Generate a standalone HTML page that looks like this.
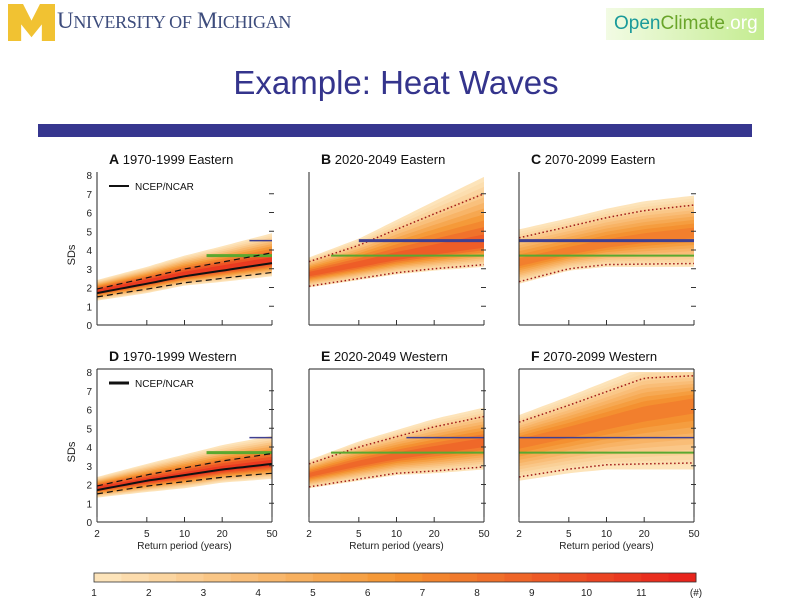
<!DOCTYPE html>
<html><head><meta charset="utf-8"><style>
body{margin:0;width:792px;height:612px;background:#fff;overflow:hidden;font-family:"Liberation Sans",sans-serif;position:relative}
</style></head><body>
<div style="position:absolute;left:8px;top:4px;width:47px;height:37px;background:#f1c232;clip-path:polygon(0 0,32% 0,50% 45%,68% 0,100% 0,100% 100%,72% 100%,72% 55%,50% 90%,28% 55%,28% 100%,0 100%)"></div>
<div style="position:absolute;left:57px;top:8px;font-family:'Liberation Serif',serif;font-size:23px;color:#3d4c7c;letter-spacing:-0.3px">U<span style="font-size:18px">NIVERSITY OF</span> M<span style="font-size:18px">ICHIGAN</span></div>
<div style="position:absolute;left:606px;top:8px;width:158px;height:32px;background:linear-gradient(90deg,#f2fbe4,#c4ec90);font-size:19px;line-height:32px;padding-left:8px;box-sizing:border-box"><span style="color:#1a9a9a">Open</span><span style="color:#6aa52a">Climate</span><span style="color:#fff">.org</span></div>
<div style="position:absolute;left:0;width:792px;top:64px;text-align:center;font-size:33px;color:#34348c">Example: Heat Waves</div>
<div style="position:absolute;left:38px;top:124px;width:714px;height:13px;background:#36368f"></div>
<svg id="chart" width="792" height="612" style="position:absolute;left:0;top:0" xmlns="http://www.w3.org/2000/svg"></svg>
<script>
const periods=[2,5,10,20,50];
const xTicks=[2,5,10,20,50];
const yTicks=[0,1,2,3,4,5,6,7,8];
const titles=["1970-1999 Eastern","2020-2049 Eastern","2070-2099 Eastern","1970-1999 Western","2020-2049 Western","2070-2099 Western"];
const letters=["A","B","C","D","E","F"];
const centerA=[1.8,2.3,2.7,3.0,3.4], upA=[0.6,0.8,1.0,1.2,1.5], downA=[0.5,0.6,0.6,0.7,0.8];
const centerB=[2.7,3.2,3.6,3.9,4.3], upB=[0.9,1.4,2.0,2.7,3.6], downB=[0.7,0.8,0.9,1.0,1.2];
const centerC=[3.3,3.9,4.3,4.6,4.9], upC=[1.8,1.8,1.9,2.0,2.0], downC=[1.1,1.0,1.2,1.5,1.8];
const centerD=[1.8,2.2,2.5,2.8,3.1], upD=[0.6,0.9,1.1,1.3,1.5], downD=[0.5,0.6,0.7,0.7,0.8];
const centerE=[2.5,3.1,3.5,3.8,4.2], upE=[0.8,1.2,1.4,1.7,1.9], downE=[0.7,0.9,1.0,1.2,1.4];
const centerF=[4.2,4.8,5.3,5.8,6.3], upF=[1.5,1.9,2.2,2.5,2.0], downF=[2.0,2.2,2.5,3.0,3.5];
const ncepA=[1.7,2.2,2.6,2.9,3.3], ncepD=[1.7,2.2,2.5,2.8,3.1];
const blueObs=[4.5,4.5,4.5,4.5,4.5,4.5], blueStart=[33,5,2,33,12,2];
const greenObs=[3.7,3.7,3.7,3.7,3.7,3.7], greenStart=[15,3,2,15,3,2];
const cbLabels=["1","2","3","4","5","6","7","8","9","10","11","(#)"];
const centers=[centerA,centerB,centerC,centerD,centerE,centerF];
const ups=[upA,upB,upC,upD,upE,upF];
const downs=[downA,downB,downC,downD,downE,downF];
const svg=document.getElementById('chart');
const NS="http://www.w3.org/2000/svg";
function mk(t,a,p){const e=document.createElementNS(NS,t);for(const k in a)e.setAttribute(k,a[k]);(p||svg).appendChild(e);return e;}
const lefts=[97,309,519], tops=[175,372], PW=175, PH=150;
function interp(arr,p){const lp=Math.log(p);for(let i=0;i<periods.length-1;i++){const a=Math.log(periods[i]),b=Math.log(periods[i+1]);if(lp<=b+1e-9){const t=(lp-a)/(b-a);return arr[i]+t*(arr[i+1]-arr[i]);}}return arr[arr.length-1];}
function col(t){const c0=[253,228,186],c1=[232,36,28],c2=[245,150,50];let r,g,b;if(t<0.5){const u=t/0.5;r=c0[0]+(c2[0]-c0[0])*u;g=c0[1]+(c2[1]-c0[1])*u;b=c0[2]+(c2[2]-c0[2])*u;}else{const u=(t-0.5)/0.5;r=c2[0]+(c1[0]-c2[0])*u;g=c2[1]+(c1[1]-c2[1])*u;b=c2[2]+(c1[2]-c2[2])*u;}return `rgb(${r|0},${g|0},${b|0})`;}
const redness=[0.9,0.75,0.6,0.9,0.7,0.6];
for(let p=0;p<6;p++){
 const L=lefts[p%3],T=tops[Math.floor(p/3)];
 const xs=v=>L+PW*Math.log(v/2)/Math.log(25);
 const ys=v=>T+PH-v*PH/8;
 const g=mk('g',{});
 
 
 const samples=[];for(let i=0;i<=30;i++)samples.push(2*Math.pow(25,i/30));
 for(let k=0;k<11;k++){const f=Math.pow((11-k)/11,0.8);let up=[],dn=[];
  samples.forEach(s=>{const c=interp(centers[p],s);up.push(xs(s).toFixed(1)+','+ys(Math.min(8,c+interp(ups[p],s)*f)).toFixed(1));dn.unshift(xs(s).toFixed(1)+','+ys(Math.max(0,c-interp(downs[p],s)*f)).toFixed(1));});
  const poly=mk('polygon',{points:up.concat(dn).join(' '),fill:col(Math.pow(k/10,1.3)*redness[p])},g);
  
  }
 if(p!==0&&p!==3){[[ups[p],0.75],[downs[p],-0.9]].forEach(([arr,m])=>{const pts=samples.map(s=>xs(s).toFixed(1)+','+ys(interp(centers[p],s)+m*interp(arr,s)).toFixed(1)).join(' ');const l=mk('polyline',{points:pts,fill:'none',stroke:'#a01818','stroke-width':1.5,'stroke-dasharray':'1.5 2.5'},g);});}
 const gl=mk('line',{x1:xs(greenStart[p]),x2:xs(50),y1:ys(greenObs[p]),y2:ys(greenObs[p]),stroke:'#5aa830','stroke-width':p%3===0?3:2},g);
 
 const bl=mk('line',{x1:xs(blueStart[p]),x2:xs(50),y1:ys(blueObs[p]),y2:ys(blueObs[p]),stroke:'#3f3f90','stroke-width':p===1||p===2?3:1.5},g);
 
 if(p===0||p===3){const nc=p===0?ncepA:ncepD;const pts=samples.map(s=>xs(s).toFixed(1)+','+ys(interp(nc,s)).toFixed(1)).join(' ');const l=mk('polyline',{points:pts,fill:'none',stroke:'#111','stroke-width':2},g);
  [0.55,-0.5].forEach(m=>{const q=samples.map(s=>xs(s).toFixed(1)+','+ys(interp(nc,s)+m*(0.4+0.6*Math.log(s/2)/Math.log(25))).toFixed(1)).join(' ');const d=mk('polyline',{points:q,fill:'none',stroke:'#111','stroke-width':1.2,'stroke-dasharray':'6 4'},g);});
  const ll=mk('line',{x1:L+12,x2:L+32,y1:T+11,y2:T+11,stroke:'#111','stroke-width':p===0?2:3},g);
  const lt=mk('text',{x:L+38,y:T+15,'font-size':10,fill:'#111'},g);lt.textContent='NCEP/NCAR';}
 mk('line',{x1:L,x2:L,y1:T-3,y2:T+PH,stroke:'#222','stroke-width':1},g);
 mk('line',{x1:L,x2:L+PW,y1:T+PH,y2:T+PH,stroke:'#222','stroke-width':1},g);
 if(p>=3){mk('line',{x1:L,x2:L+PW,y1:T-3,y2:T-3,stroke:'#222','stroke-width':1},g);mk('line',{x1:L+PW,x2:L+PW,y1:T-3,y2:T+PH,stroke:'#222','stroke-width':1},g);}
 if(p%3===0){yTicks.forEach(v=>{const t=mk('text',{x:L-5,y:ys(v)+4,'font-size':10,'text-anchor':'end',fill:'#222'},g);t.textContent=v;});
  const yt=mk('text',{x:L-22,y:T+80,'font-size':11,'text-anchor':'middle',fill:'#222',transform:`rotate(-90 ${L-22} ${T+80})`},g);yt.textContent='SDs';}
 [1,2,3,4,5,6,7].forEach(v=>mk('line',{x1:L+PW-3,x2:L+PW+2,y1:ys(v),y2:ys(v),stroke:'#333','stroke-width':1},g));
 xTicks.forEach(v=>{mk('line',{x1:xs(v),x2:xs(v),y1:T+PH,y2:T+PH-5,stroke:'#333'},g);
  if(p>=3){const t=mk('text',{x:xs(v),y:T+PH+15,'font-size':10,'text-anchor':'middle',fill:'#222'},g);t.textContent=v;}});
 if(p>=3){const t=mk('text',{x:L+PW/2,y:T+PH+27,'font-size':10,'text-anchor':'middle',fill:'#222'},g);t.textContent='Return period (years)';}
 const tt=mk('text',{x:L+12,y:T-11,'font-size':13,fill:'#111'},g);tt.innerHTML=`<tspan font-weight="bold" font-size="14">${letters[p]}</tspan>  ${titles[p]}`;
}
const cb=mk('g',{});
const cbL=94,cbR=696,n=22;
for(let i=0;i<n;i++){const r=mk('rect',{x:cbL+(cbR-cbL)*i/n,y:573,width:(cbR-cbL)/n+0.5,height:9,fill:col(i/(n-1))},cb);}
mk('rect',{x:cbL,y:573,width:cbR-cbL,height:9,fill:'none',stroke:'#333','stroke-width':0.8},cb);
cbLabels.forEach((s,i)=>{const t=mk('text',{x:cbL+(cbR-cbL)*i/11,y:596,'font-size':10,'text-anchor':'middle',fill:'#222'},cb);t.textContent=s;});
</script>
</body></html>
